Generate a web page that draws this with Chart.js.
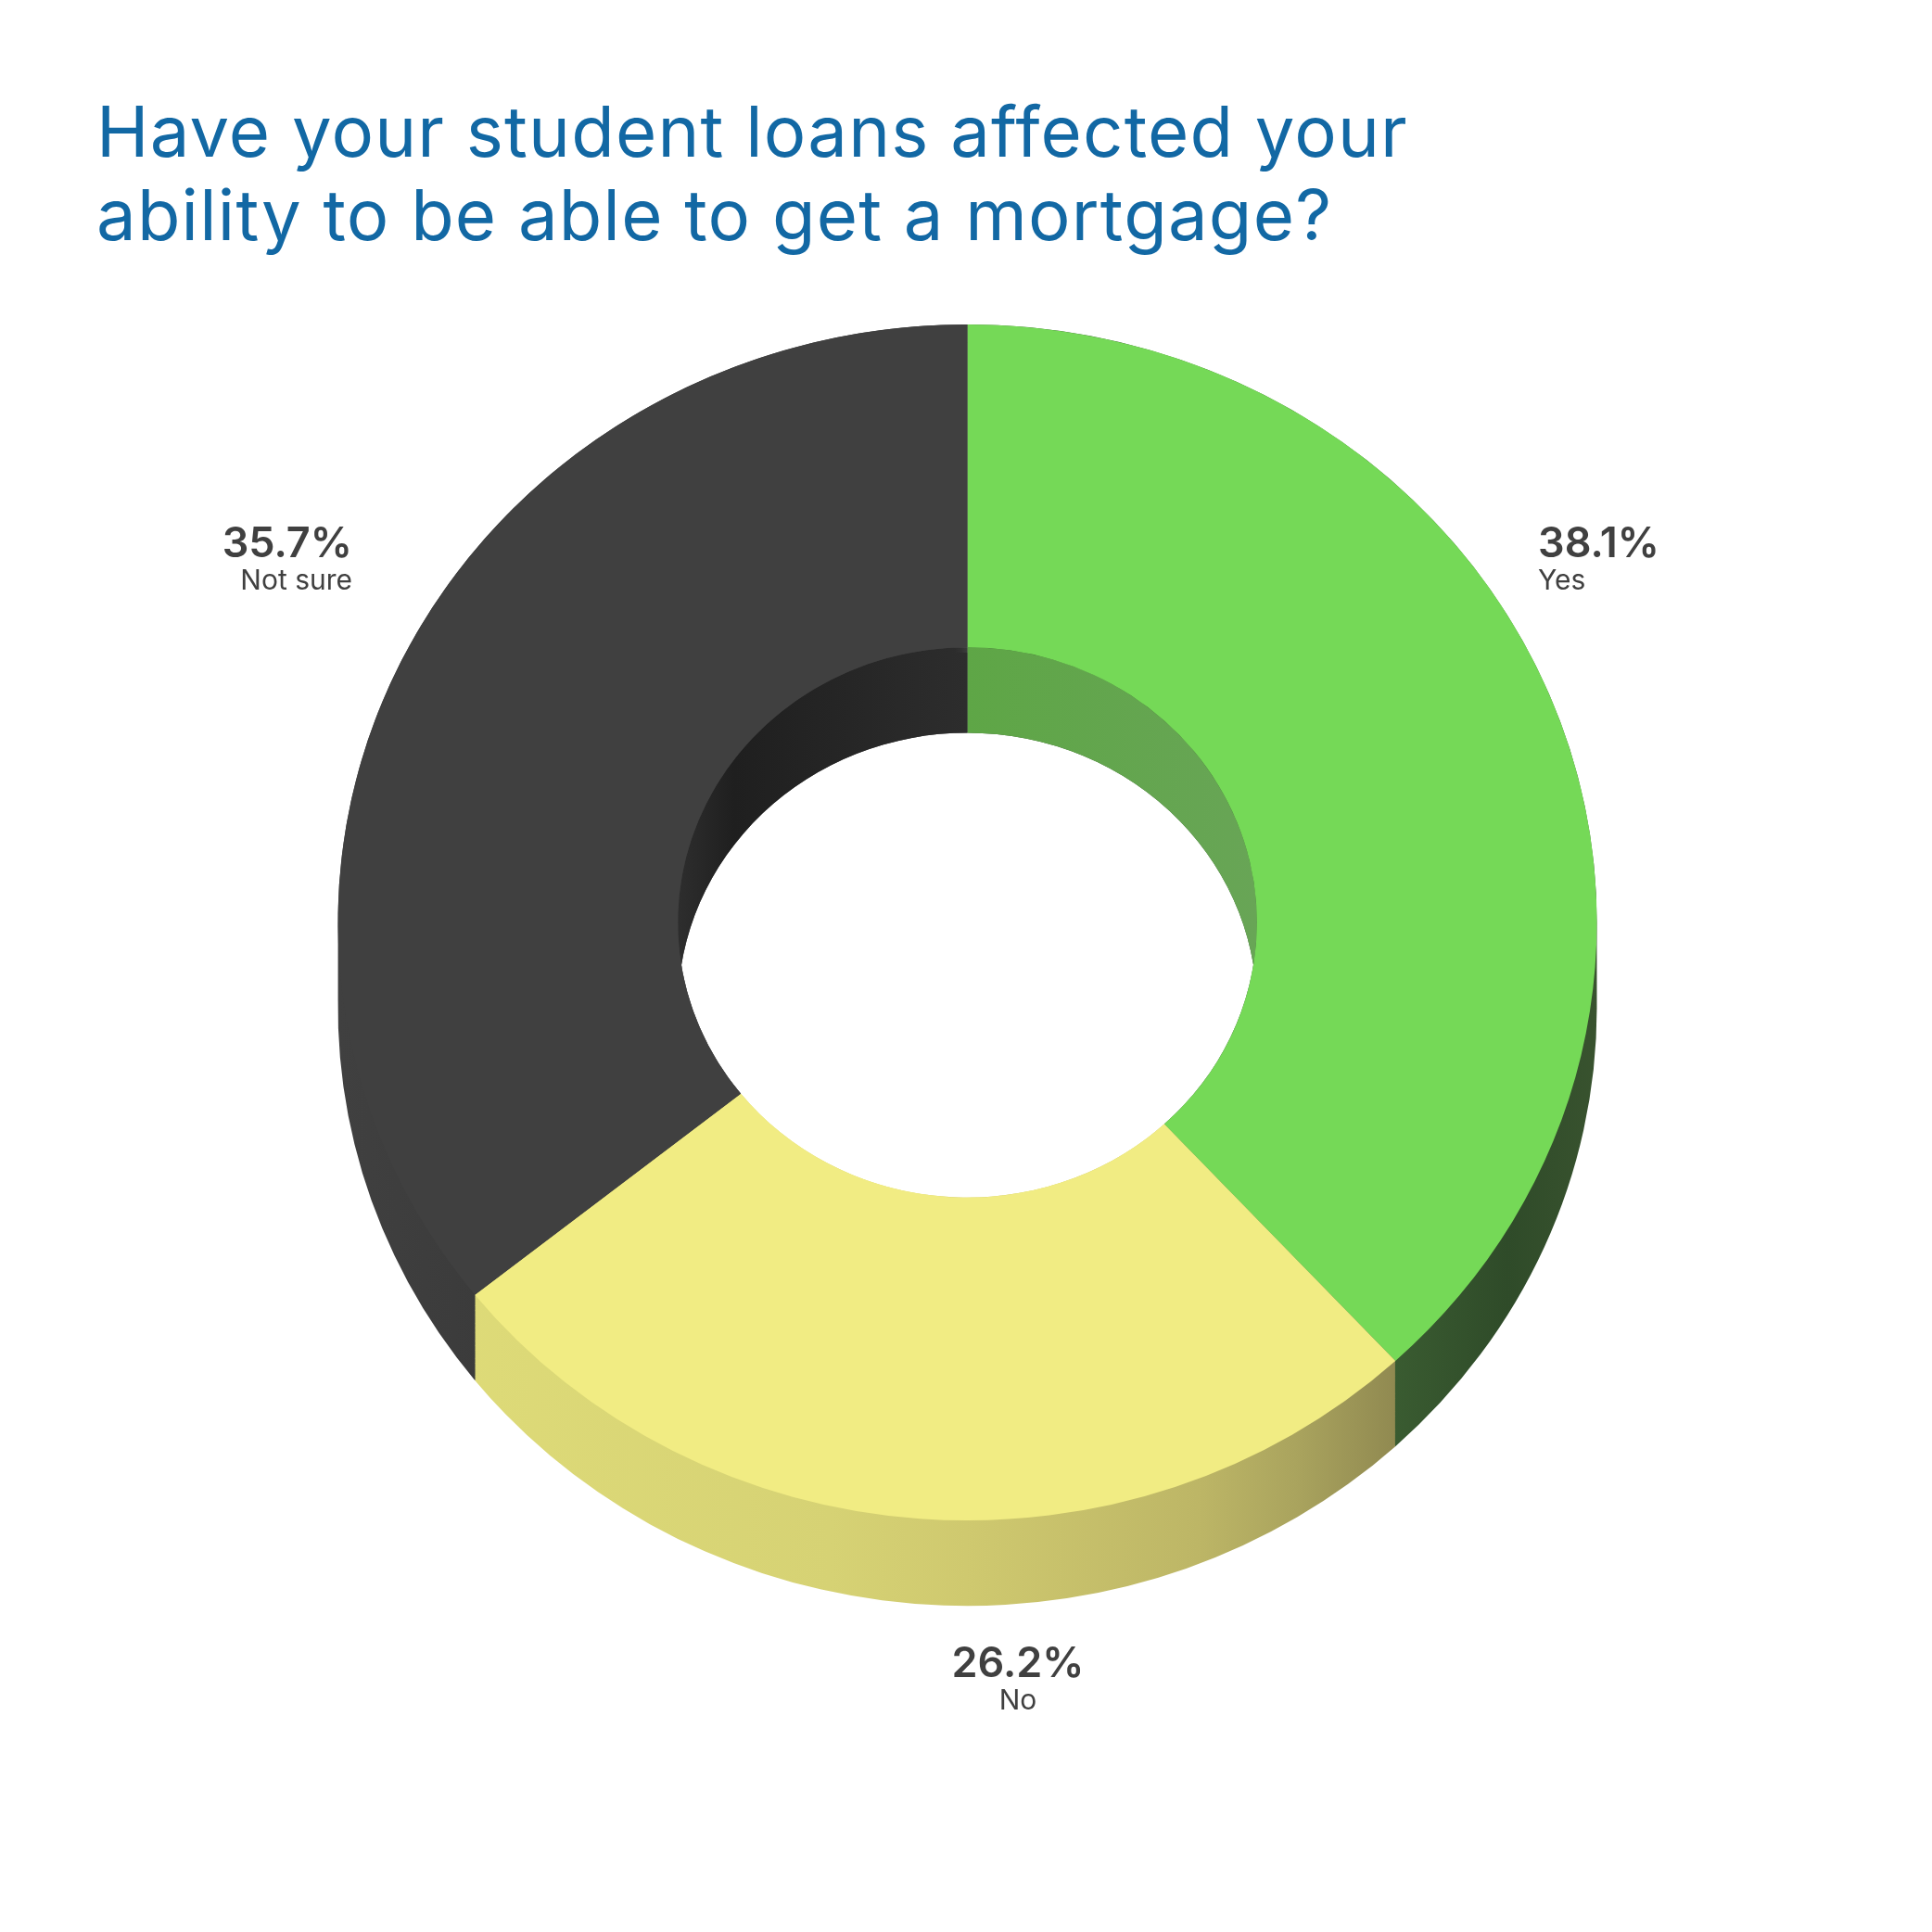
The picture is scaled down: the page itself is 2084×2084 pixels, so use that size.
<!DOCTYPE html>
<html>
<head>
<meta charset="utf-8">
<title>Student loans and mortgages</title>
<script src="https://cdn.jsdelivr.net/npm/chart.js@4"></script>
<style>
    html, body { margin: 0; padding: 0; background: #fff; overflow: hidden; }
    canvas { display: block; }
</style>
</head>
<body>
<canvas id="loanChart" width="2084" height="2084"></canvas>
<script>
const titleLines = ['Have your student loans affected your', 'ability to be able to get a mortgage?'];
const categories = ['Yes', 'No', 'Not sure'];
const values = [38.1, 26.2, 35.7];

const faceColors = ['#75d957', '#f1ec83', '#404040'];
// [position across the chart width, colour] for the outer and inner walls
const outerWalls = [
    [[0, '#3a5c31'], [0.72, '#3a5c31'], [0.78, '#2f4b29'], [0.83, '#39532f']],
    [[0.23, '#dedb78'], [0.43, '#d6d274'], [0.5, '#cfc96f'], [0.62, '#bdb666'], [0.67, '#aaa45e'], [0.725, '#8f8850']],
    [[0.176, '#404040'], [0.25, '#3b3b3b'], [1, '#3b3b3b']]
];
const innerWalls = [
    [[0.5, '#5ea646'], [0.65, '#68a556']],
    [[0.5, '#f1ec83'], [0.65, '#f1ec83']],
    [[0.35, '#2e2e2e'], [0.38, '#1f1f1f'], [0.5, '#2d2d2d']]
];
const labelSpots = [
    { x: 1659, y: 601, align: 'left' },
    { x: 1098, y: 1809, align: 'center' },
    { x: 380, y: 601, align: 'right' }
];
// walls are painted back to front so the seam between them falls at the rim
const wallOrder = [0, 2, 1];

const squash = 0.95;    // top face is a slightly flattened circle
const depth = 93;       // height of the walls in page pixels

function wallGradient(ctx, width, stops) {
    const g = ctx.createLinearGradient(0, 0, width, 0);
    stops.forEach(s => g.addColorStop(s[0], s[1]));
    return g;
}

// union of the ring piece moved down step by step
function sweptPath(ctx, arc) {
    ctx.beginPath();
    for (let d = 0; d <= depth / squash; d++) {
        ctx.moveTo(arc.x + Math.cos(arc.startAngle) * arc.outerRadius, arc.y + d + Math.sin(arc.startAngle) * arc.outerRadius);
        ctx.arc(arc.x, arc.y + d, arc.outerRadius, arc.startAngle, arc.endAngle);
        ctx.arc(arc.x, arc.y + d, arc.innerRadius, arc.endAngle, arc.startAngle, true);
        ctx.closePath();
    }
}

const pieWalls = {
    id: 'pieWalls',
    beforeDraw(chart) {
        chart.ctx.letterSpacing = '1.2px';
    },
    beforeDatasetsDraw(chart) {
        const ctx = chart.ctx;
        const arcs = chart.getDatasetMeta(0).data;
        const first = arcs[0];
        ctx.letterSpacing = '0px';
        ctx.save();
        ctx.translate(first.x, first.y);
        ctx.scale(1, squash);
        ctx.translate(-first.x, -first.y);

        wallOrder.forEach(i => {
            sweptPath(ctx, arcs[i]);
            ctx.fillStyle = wallGradient(ctx, chart.width, outerWalls[i]);
            ctx.fill();
        });
        ctx.save();
        ctx.beginPath();
        ctx.arc(first.x, first.y, first.innerRadius, 0, Math.PI * 2);
        ctx.clip();
        arcs.forEach((arc, i) => {
            sweptPath(ctx, arc);
            ctx.fillStyle = wallGradient(ctx, chart.width, innerWalls[i]);
            ctx.fill();
        });
        ctx.restore();
    },
    afterDatasetsDraw(chart) {
        chart.ctx.restore();
    },
    afterDraw(chart) {
        const ctx = chart.ctx;
        ctx.save();
        ctx.fillStyle = '#404040';
        ctx.textBaseline = 'alphabetic';
        categories.forEach((name, i) => {
            const spot = labelSpots[i];
            ctx.textAlign = spot.align;
            ctx.font = '600 45px Inter';
            ctx.fillText(values[i].toFixed(1) + '%', spot.x, spot.y);
            ctx.font = '400 30px Inter';
            ctx.fillText(name, spot.x, spot.y + 35);
        });
        ctx.restore();
    }
};

new Chart(document.getElementById('loanChart').getContext('2d'), {
    type: 'doughnut',
    data: {
        labels: categories,
        datasets: [{
            data: values,
            backgroundColor: faceColors,
            borderWidth: 0,
            clip: 20
        }]
    },
    options: {
        responsive: false,
        devicePixelRatio: 1,
        animation: false,
        cutout: '46%',
        layout: { padding: { left: 104, right: 101, top: 101, bottom: 410 } },
        plugins: {
            legend: { display: false },
            tooltip: { enabled: false },
            title: {
                display: true,
                text: titleLines,
                align: 'start',
                color: '#1268a4',
                font: { family: 'Inter', size: 76, weight: '400', lineHeight: 90 / 76 },
                padding: { top: 0, bottom: 35 }
            }
        }
    },
    plugins: [pieWalls]
});
</script>
</body>
</html>
